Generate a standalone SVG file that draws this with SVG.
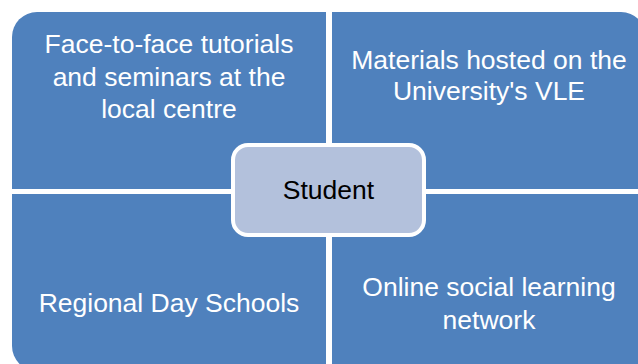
<svg xmlns="http://www.w3.org/2000/svg" width="638" height="364" viewBox="0 0 638 364">
<style>
.q{fill:#4F81BD}
.qt{font-family:"Liberation Sans",Arial,sans-serif;font-size:26.5px;fill:#FFFFFF;text-anchor:middle}
.ct{font-family:"Liberation Sans",Arial,sans-serif;font-size:26.5px;fill:#000000;text-anchor:middle}
</style>
<rect width="638" height="364" fill="#FFFFFF"/>
<g id="tl">
<path class="q" d="M12,37 A25,25 0 0 1 37,12 L326,12 L326,189 L12,189 Z"/>
<text class="qt" x="169" y="53">Face-to-face tutorials</text>
<text class="qt" x="169" y="86">and seminars at the</text>
<text class="qt" x="169" y="118">local centre</text>
</g>
<g id="tr">
<path class="q" d="M332,12 L621,12 A25,25 0 0 1 646,37 L646,189 L332,189 Z"/>
<text class="qt" x="489" y="69">Materials hosted on the</text>
<text class="qt" x="489" y="100">University's VLE</text>
</g>
<g id="bl">
<path class="q" d="M12,194 L326,194 L326,371 L37,371 A25,25 0 0 1 12,346 Z"/>
<text class="qt" x="169" y="312">Regional Day Schools</text>
</g>
<g id="br">
<path class="q" d="M332,194 L646,194 L646,371 L332,371 Z"/>
<text class="qt" x="489" y="296">Online social learning</text>
<text class="qt" x="489" y="329">network</text>
</g>
<g id="student">
<rect x="233" y="145" width="191" height="90" rx="15" ry="15" fill="#B3C1DC" stroke="#FFFFFF" stroke-width="4"/>
<text class="ct" x="328.5" y="199">Student</text>
</g>
<g id="connectors"></g>
</svg>
